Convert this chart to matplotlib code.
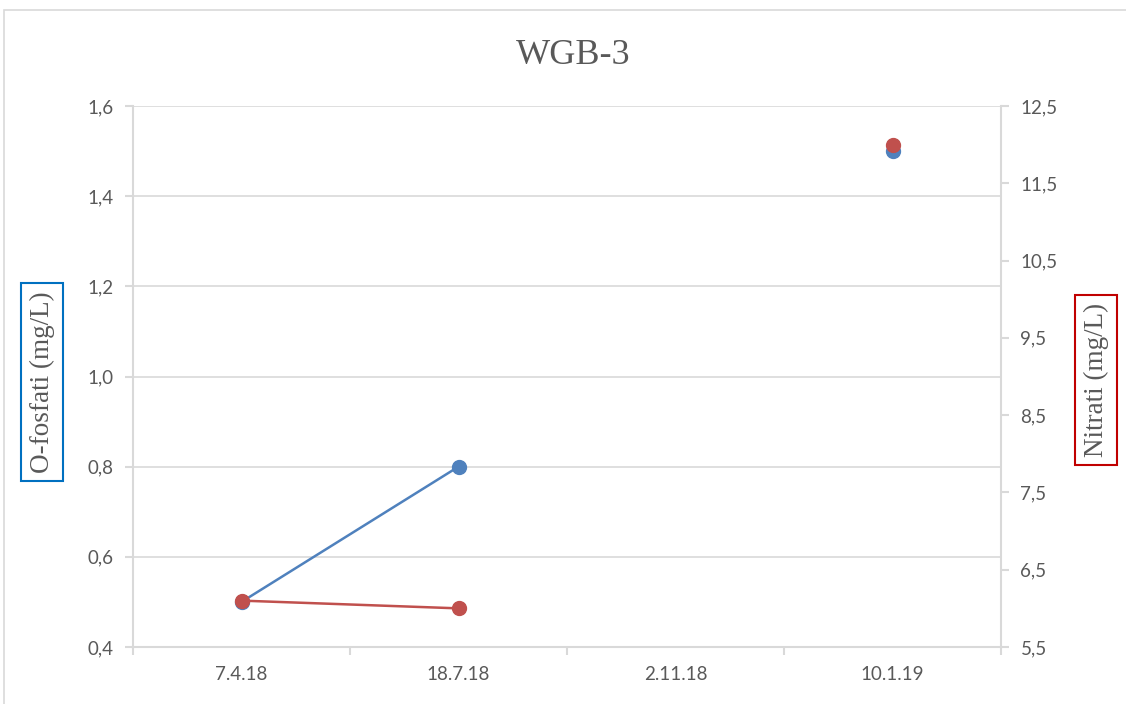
import numpy as np
import matplotlib
matplotlib.use("Agg")
import matplotlib.pyplot as plt
from matplotlib.patches import Rectangle

categories = ["7.4.18", "18.7.18", "2.11.18", "10.1.19"]
ofosfati = [0.5, 0.8, np.nan, 1.5]
nitrati = [6.1, 6.0, np.nan, 12.0]
left_ticks = [0.4, 0.6, 0.8, 1.0, 1.2, 1.4, 1.6]
right_ticks = [5.5, 6.5, 7.5, 8.5, 9.5, 10.5, 11.5, 12.5]

BLUE = "#4F81BD"
RED = "#C0504D"
GRID = "#D9D9D9"
TXT = "#595959"

W, H = 1126, 704
fig = plt.figure(figsize=(W / 100, H / 100), dpi=100)
fig.patches.append(Rectangle((4 / W, -0.2), 1.2, 1.2 - 10 / H, transform=fig.transFigure,
                             fill=False, edgecolor=GRID, lw=1.2, zorder=0))

ax = fig.add_axes([133 / W, 1 - 647 / H, (1001 - 133) / W, (647 - 106) / H])
ax2 = ax.twinx()

x = np.arange(len(categories))
ax.plot(x, ofosfati, color=BLUE, lw=1.8, marker="o", ms=10, zorder=3)
ax2.plot(x, nitrati, color=RED, lw=1.8, marker="o", ms=10, zorder=3)

ax.set_xlim(-0.5, 3.5)
ax.set_ylim(0.4, 1.6)
ax2.set_ylim(5.5, 12.5)
ax.set_yticks(left_ticks)
ax.set_yticklabels([f"{v:.1f}".replace(".", ",") for v in left_ticks])
ax2.set_yticks(right_ticks)
ax2.set_yticklabels([f"{v:.1f}".replace(".", ",") for v in right_ticks])

ax.set_xticks(x)
ax.set_xticklabels(categories)
ax.set_xticks(np.arange(-0.5, 3.6, 1.0), minor=True)
ax.tick_params(axis="x", which="major", length=0, pad=14)
ax.tick_params(axis="x", which="minor", length=6, color=GRID, width=1.5)

ax.grid(axis="y", color=GRID, lw=1.2)
ax.set_axisbelow(True)

for a in (ax, ax2):
    for s in a.spines.values():
        s.set_visible(False)
    a.tick_params(axis="y", length=6, color=GRID, width=1.5, labelsize=13.5, labelcolor=TXT, pad=8)
ax.tick_params(axis="x", labelsize=13.5, labelcolor=TXT)
ax.spines["left"].set_visible(True)
ax.spines["left"].set_color(GRID)
ax.spines["left"].set_linewidth(1.5)
ax.spines["bottom"].set_visible(True)
ax.spines["bottom"].set_color(GRID)
ax.spines["bottom"].set_linewidth(1.5)
ax2.spines["right"].set_visible(True)
ax2.spines["right"].set_color(GRID)
ax2.spines["right"].set_linewidth(1.5)

for lab in ax.get_yticklabels() + ax2.get_yticklabels() + ax.get_xticklabels():
    lab.set_family("Lato")

fig.text(573 / W, 1 - 55 / H, "WGB-3", family="Liberation Serif", fontsize=26,
         color=TXT, ha="center", va="center")

fig.text(42 / W, 1 - 382 / H, "O-fosfati (mg/L)", family="Liberation Serif", fontsize=19.5,
         color=TXT, ha="center", va="center", rotation=90,
         bbox=dict(boxstyle="square,pad=0.3", fc="white", ec="#0070C0", lw=1.5))
fig.text(1096 / W, 1 - 380 / H, "Nitrati (mg/L)", family="Liberation Serif", fontsize=19.5,
         color=TXT, ha="center", va="center", rotation=90,
         bbox=dict(boxstyle="square,pad=0.3", fc="white", ec="#C00000", lw=1.5))

fig.savefig("out.png", dpi=100)
